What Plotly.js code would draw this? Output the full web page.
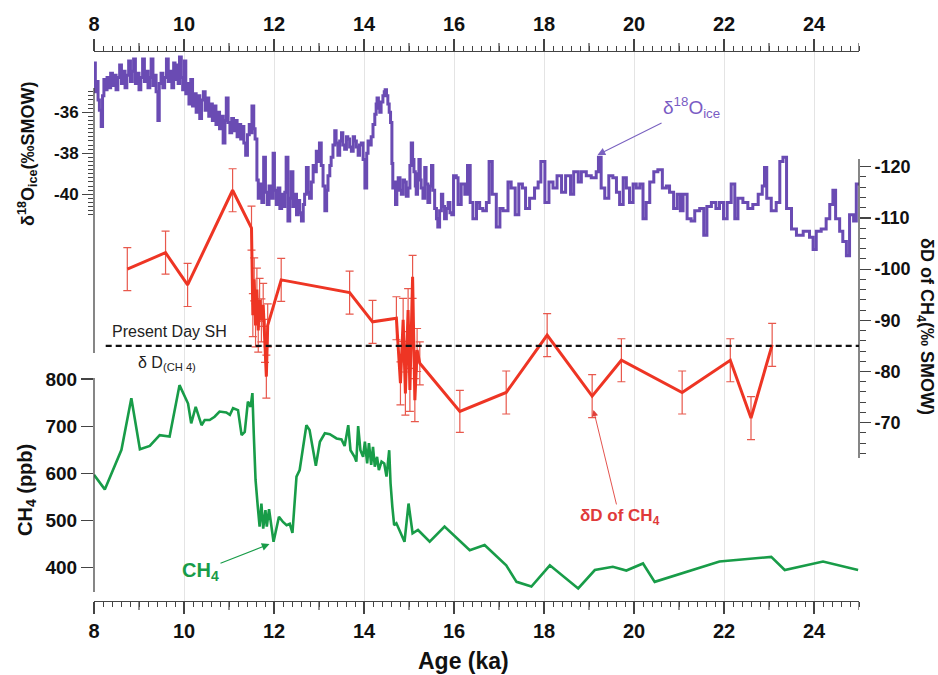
<!DOCTYPE html>
<html><head><meta charset="utf-8">
<script src="https://cdn.plot.ly/plotly-3.0.1.min.js"></script>
<style>html,body{margin:0;padding:0;background:#fff}#chart{width:938px;height:675px}</style>
</head><body><div id="chart"></div>
<script>
// ---------- DATA ----------
const d18Age = [8.00,8.03,8.06,8.09,8.12,8.16,8.19,8.22,8.26,8.29,8.33,8.37,8.41,8.45,8.49,8.53,8.57,8.61,8.65,8.69,8.73,8.77,8.81,8.85,8.88,8.92,8.96,9.00,9.04,9.08,9.12,9.16,9.20,9.24,9.27,9.31,9.35,9.38,9.42,9.45,9.49,9.53,9.57,9.61,9.65,9.69,9.73,9.77,9.80,9.83,9.87,9.90,9.94,9.97,10.01,10.04,10.08,10.11,10.15,10.19,10.23,10.27,10.31,10.35,10.39,10.43,10.47,10.51,10.55,10.59,10.63,10.67,10.71,10.75,10.79,10.83,10.87,10.91,10.94,10.98,11.02,11.06,11.10,11.14,11.18,11.22,11.26,11.30,11.33,11.37,11.41,11.45,11.48,11.51,11.55,11.58,11.62,11.65,11.69,11.73,11.77,11.81,11.85,11.89,11.93,11.98,12.01,12.05,12.09,12.13,12.17,12.21,12.24,12.27,12.31,12.35,12.38,12.42,12.46,12.50,12.54,12.57,12.61,12.65,12.68,12.72,12.76,12.79,12.83,12.87,12.90,12.94,12.98,13.01,13.05,13.09,13.13,13.17,13.20,13.24,13.27,13.31,13.35,13.38,13.42,13.46,13.50,13.53,13.57,13.61,13.64,13.68,13.72,13.76,13.79,13.83,13.87,13.90,13.94,13.98,14.02,14.06,14.09,14.13,14.16,14.20,14.24,14.27,14.29,14.32,14.35,14.38,14.42,14.45,14.47,14.50,14.53,14.56,14.59,14.62,14.64,14.67,14.70,14.73,14.76,14.80,14.83,14.87,14.90,14.94,14.98,15.02,15.05,15.08,15.11,15.14,15.16,15.19,15.22,15.25,15.27,15.31,15.35,15.38,15.42,15.46,15.50,15.53,15.57,15.61,15.64,15.68,15.72,15.75,15.79,15.83,15.87,15.91,15.95,15.99,16.05,16.09,16.16,16.24,16.30,16.36,16.42,16.50,16.57,16.64,16.72,16.78,16.85,16.94,17.02,17.09,17.20,17.27,17.36,17.44,17.52,17.59,17.68,17.79,17.87,17.93,18.02,18.11,18.20,18.29,18.39,18.48,18.59,18.66,18.76,18.83,18.94,19.05,19.16,19.21,19.27,19.35,19.44,19.53,19.61,19.68,19.76,19.83,19.90,19.98,20.05,20.13,20.20,20.27,20.35,20.44,20.53,20.63,20.72,20.79,20.88,20.96,21.03,21.09,21.18,21.27,21.35,21.46,21.55,21.62,21.72,21.82,21.90,21.99,22.07,22.16,22.24,22.31,22.42,22.53,22.64,22.76,22.85,22.90,22.95,23.05,23.16,23.24,23.31,23.39,23.50,23.61,23.76,23.90,23.98,24.05,24.16,24.27,24.35,24.42,24.48,24.57,24.64,24.72,24.79,24.88,24.94,25.00];
const d18Val = [-33.6,-35.0,-34.5,-35.4,-35.9,-36.7,-35.2,-34.4,-34.9,-34.3,-34.8,-34.1,-34.7,-34.2,-34.9,-34.3,-33.7,-34.6,-34.0,-34.8,-34.2,-33.5,-34.5,-34.0,-33.4,-34.6,-34.1,-34.9,-34.3,-33.4,-34.5,-34.0,-34.8,-34.3,-33.4,-34.7,-34.2,-35.0,-36.4,-34.6,-34.1,-34.8,-34.3,-33.4,-34.5,-34.0,-34.8,-33.6,-34.4,-33.7,-34.6,-33.3,-34.3,-34.9,-33.5,-35.1,-34.6,-35.6,-34.4,-35.7,-35.1,-36.0,-35.2,-36.3,-35.4,-35.0,-35.9,-35.3,-36.2,-35.6,-36.4,-35.7,-36.6,-36.0,-36.8,-36.2,-37.5,-36.4,-35.3,-36.5,-37.0,-36.3,-36.9,-36.4,-37.2,-36.6,-37.3,-36.7,-37.5,-38.1,-37.1,-36.6,-37.0,-35.7,-36.8,-37.3,-39.3,-40.2,-39.5,-40.4,-38.2,-39.9,-40.5,-39.6,-40.2,-38.0,-39.8,-40.5,-39.7,-40.7,-40.0,-40.6,-39.9,-38.2,-41.3,-40.2,-38.9,-40.6,-40.0,-41.0,-40.3,-40.9,-41.3,-40.5,-40.0,-38.7,-39.9,-40.2,-39.4,-38.6,-38.9,-37.9,-38.4,-37.5,-38.6,-39.6,-40.8,-39.8,-39.1,-38.6,-38.2,-37.6,-36.9,-37.5,-38.1,-37.4,-37.0,-37.6,-37.8,-37.2,-37.3,-37.7,-37.9,-37.2,-37.4,-37.7,-38.1,-37.6,-37.5,-38.3,-39.7,-38.0,-37.4,-37.6,-37.2,-36.6,-36.1,-35.6,-35.3,-35.8,-36.0,-35.5,-35.2,-35.0,-34.9,-35.2,-35.6,-36.0,-36.5,-38.5,-39.7,-39.4,-40.5,-39.8,-39.2,-39.8,-40.0,-39.3,-39.4,-40.1,-39.7,-38.6,-37.5,-38.3,-38.9,-39.6,-40.0,-39.0,-38.3,-39.3,-39.7,-40.2,-38.7,-39.5,-40.4,-39.6,-38.6,-39.8,-40.7,-41.2,-41.6,-40.8,-40.0,-40.6,-41.2,-40.7,-40.4,-40.9,-41.0,-39.1,-39.2,-40.5,-39.5,-40.0,-38.6,-40.4,-41.2,-40.4,-40.7,-40.8,-40.4,-38.4,-40.0,-41.6,-40.7,-40.8,-39.4,-39.7,-41.0,-39.5,-39.7,-40.7,-40.2,-39.7,-39.4,-38.4,-40.4,-39.4,-39.7,-39.1,-39.9,-39.1,-40.0,-38.9,-39.4,-38.9,-39.1,-39.2,-38.9,-38.2,-39.7,-40.2,-39.1,-39.2,-39.9,-40.5,-39.2,-39.7,-40.4,-39.5,-39.7,-39.5,-41.2,-40.4,-39.4,-38.9,-38.8,-39.7,-39.6,-39.9,-40.7,-40.0,-40.8,-40.0,-41.2,-41.3,-40.8,-40.7,-42.0,-40.6,-40.4,-40.7,-40.4,-41.2,-40.4,-39.5,-41.2,-40.2,-40.4,-40.7,-40.5,-40.0,-39.6,-38.7,-40.2,-40.8,-40.4,-38.4,-38.2,-40.7,-41.7,-42.0,-41.8,-42.1,-42.7,-41.8,-41.7,-41.2,-40.5,-39.8,-41.2,-41.8,-42.3,-43.0,-41.0,-41.3,-39.5,-39.5];

const dDAge = [8.74,9.59,10.08,11.08,11.50,11.53,11.56,11.59,11.62,11.65,11.68,11.72,11.76,11.80,11.83,11.86,12.16,13.68,14.19,14.72,14.81,14.87,14.92,14.98,15.02,15.08,15.13,15.18,15.24,16.13,17.16,18.07,19.07,19.72,21.07,22.14,22.60,23.07];
const dDVal = [-100.0,-103.2,-96.9,-115.4,-108.0,-91.0,-98.0,-89.0,-96.0,-88.0,-94.0,-90.0,-93.0,-86.0,-79.0,-89.0,-97.9,-95.4,-89.7,-90.4,-77.7,-90.1,-75.7,-92.0,-76.4,-98.5,-74.4,-84.2,-81.6,-72.2,-75.9,-87.1,-75.2,-82.2,-75.9,-82.2,-70.9,-85.2];
const dDErr = [4.2,4.2,4.2,4.2,4.3,4.2,4.2,4.2,4.2,4.2,4.2,4.2,4.2,4.2,4.2,4.2,4.2,4.2,4.2,4.2,4.2,4.2,4.2,4.2,4.2,4.2,4.2,4.2,4.2,4.1,4.2,4.2,4.2,4.2,4.2,4.2,4.2,4.2];

const ch4Age = [8.00,8.24,8.61,8.83,9.02,9.24,9.46,9.68,9.90,10.09,10.16,10.26,10.39,10.46,10.57,10.68,10.79,10.94,11.02,11.09,11.20,11.28,11.35,11.42,11.48,11.52,11.55,11.59,11.64,11.68,11.72,11.76,11.81,11.84,11.89,11.94,11.99,12.11,12.20,12.28,12.35,12.41,12.50,12.57,12.72,12.79,12.93,13.02,13.13,13.24,13.39,13.50,13.57,13.65,13.70,13.79,13.83,13.87,13.92,13.98,14.02,14.07,14.11,14.16,14.20,14.24,14.29,14.33,14.39,14.45,14.50,14.56,14.59,14.63,14.67,14.72,14.79,14.90,14.99,15.08,15.20,15.46,15.79,16.35,16.68,17.16,17.39,17.72,18.13,18.76,19.13,19.53,19.83,20.20,20.46,21.90,23.05,23.35,24.20,24.98];
const ch4Val = [597,566,650,759,651,658,681,678,787,748,706,741,702,713,713,720,731,729,724,738,734,681,688,752,741,770,685,586,529,487,536,483,522,487,524,487,455,508,497,490,493,474,593,607,702,692,616,667,685,683,674,672,658,702,649,635,625,700,649,635,667,621,664,618,656,614,635,607,625,621,593,649,579,529,490,494,480,455,536,473,480,455,487,437,448,405,370,360,405,356,395,402,394,409,370,413,423,395,413,395];

const xLabelTicks = [8,10,12,14,16,18,20,22,24];
const xOddTicks = [9,11,13,15,17,19,21,23,25];
const d18Ticks = [-36,-38,-40];
const d18TickText = ['-36','-38','-40'];
const ch4Ticks = [400,500,600,700,800];
const dDTicks = [-120,-110,-100,-90,-80,-70];
const dDTickText = ['-120','-110','-100','-90','-80','-70'];
const presentDaySH = -85;

// ---------- STYLE ----------
const FONT = 'Liberation Sans, Arial, Helvetica, sans-serif';
const AX = '#444';
function rng(a, b, s){ const o=[]; for(let v=a; v<=b+1e-9; v+=s) o.push(Math.round(v*100)/100); return o; }
const d18Minor = rng(-41, -35, 0.2);
const dDMinor = rng(-120, -64, 2);

const purple = '#6a4bb3', red = '#ee3524', green = '#189c48';

const traces = [
  {x: d18Age, y: d18Val, type:'scatter', mode:'lines', line:{shape:'hv', color:purple, width:3}, xaxis:'x', yaxis:'y', hoverinfo:'skip', showlegend:false},
  {x: ch4Age, y: ch4Val, type:'scatter', mode:'lines', line:{color:green, width:2.6}, xaxis:'x', yaxis:'y2', hoverinfo:'skip', showlegend:false},
  {x: dDAge, y: dDVal, type:'scatter', mode:'lines', line:{color:red, width:3}, xaxis:'x', yaxis:'y3',
    error_y:{type:'data', array:dDErr, visible:true, color:'#e8584c', thickness:1.2, width:4}, hoverinfo:'skip', showlegend:false},
  {x:[8,25], y:[null,null], type:'scatter', mode:'lines', xaxis:'x2', yaxis:'y', hoverinfo:'skip', showlegend:false}
];

const tickFontX = {family:FONT, size:20, color:'#111', weight:700};
const baseX = {range:[8,25], tickmode:'array', tickvals:xLabelTicks, ticks:'outside', ticklen:12, tickwidth:1.2, tickcolor:AX,
  showline:true, linecolor:AX, linewidth:1.3, zeroline:false, tickfont:tickFontX,
  minor:{tickmode:'linear', tick0:8, dtick:0.2, ticks:'outside', ticklen:5, tickcolor:AX, tickwidth:1, showgrid:false}};

// medium ticks at odd ages (bottom and top), placed on the x scale
const oddTickShapes = [];
xOddTicks.forEach(v => {
  oddTickShapes.push({type:'line', xref:'x', yref:'paper', x0:v, x1:v, y0:0, y1:-9/549, line:{color:AX, width:1.2}});
  oddTickShapes.push({type:'line', xref:'x', yref:'paper', x0:v, x1:v, y0:1, y1:1+9/549, line:{color:AX, width:1.2}});
});

const layout = {
  width:938, height:675,
  margin:{l:94, r:79, t:52, b:74},
  paper_bgcolor:'#fff', plot_bgcolor:'rgba(0,0,0,0)',
  showlegend:false,
  xaxis: Object.assign({}, baseX, {side:'bottom', anchor:'y', showgrid:true, gridcolor:'#e4e4e4', gridwidth:1}),
  xaxis2: Object.assign({}, baseX, {side:'top', overlaying:'x', anchor:'y', showgrid:false}),
  yaxis: {range:[-59.84,-33.06], side:'left', anchor:'x', tickmode:'array', tickvals:d18Ticks, ticktext:d18TickText, ticks:'outside', ticklen:11, tickwidth:1.2, tickcolor:AX,
    showline:false, showgrid:false, zeroline:false, tickfont:{family:FONT, size:17, color:'#111', weight:700},
    minor:{tickmode:'array', tickvals:d18Minor, ticks:'outside', ticklen:5, tickcolor:AX, tickwidth:1, showgrid:false}},
  yaxis2: {range:[329.4,1493.2], overlaying:'y', side:'left', anchor:'x', tickmode:'array', tickvals:ch4Ticks, ticks:'outside', ticklen:12, tickwidth:1.3, tickcolor:AX,
    showline:false, showgrid:false, zeroline:false, tickfont:{family:FONT, size:19, color:'#111', weight:700}},
  yaxis3: {range:[-35.18,-142.40], overlaying:'y', side:'right', anchor:'x', tickmode:'array', tickvals:dDTicks, ticktext:dDTickText, ticks:'outside', ticklen:11, tickwidth:1.2, tickcolor:AX,
    showline:false, showgrid:false, zeroline:false, tickfont:{family:FONT, size:18, color:'#111', weight:700},
    minor:{tickmode:'array', tickvals:dDMinor, ticks:'outside', ticklen:6, tickcolor:AX, tickwidth:1, showgrid:false}},
  shapes: [
    {type:'line', xref:'paper', yref:'paper', x0:0, x1:0, y0:0.9344, y1:0.4517, line:{color:AX, width:1.3}},
    {type:'line', xref:'paper', yref:'paper', x0:0, x1:0, y0:0.4062, y1:0.0164, line:{color:AX, width:1.3}},
    {type:'line', xref:'paper', yref:'paper', x0:1, x1:1, y0:0.8051, y1:0.2605, line:{color:AX, width:1.3}},
    {type:'line', xref:'x', yref:'y3', x0:8.26, x1:25, y0:presentDaySH, y1:presentDaySH, line:{color:'#111', width:2.4, dash:'6px,4px'}}
  ].concat(oddTickShapes),
  annotations: [
    {xref:'paper', yref:'paper', x:(463-94)/765, y:(601-661)/549, xanchor:'center', yanchor:'middle', text:'Age (ka)', showarrow:false, font:{family:FONT, size:23, color:'#111', weight:700}},
    {xref:'paper', yref:'paper', x:(27-94)/765, y:(601-154)/549, xanchor:'center', yanchor:'middle', text:'δ<sup>18</sup>O<sub>ice</sub>(‰SMOW)', textangle:-90, showarrow:false, font:{family:FONT, size:18, color:'#111', weight:700}},
    {xref:'paper', yref:'paper', x:(26-94)/765, y:(601-490)/549, xanchor:'center', yanchor:'middle', text:'CH<sub>4</sub> (ppb)', textangle:-90, showarrow:false, font:{family:FONT, size:20, color:'#111', weight:700}},
    {xref:'paper', yref:'paper', x:(926-94)/765, y:(601-327)/549, xanchor:'center', yanchor:'middle', text:'δD of CH<sub>4</sub>(‰ SMOW)', textangle:90, showarrow:false, font:{family:FONT, size:18, color:'#111', weight:700}},
    {xref:'x', yref:'y3', x:9.67, y:-87.9, xanchor:'center', yanchor:'middle', text:'Present Day SH', showarrow:false, font:{family:FONT, size:16, color:'#222'}},
    {xref:'x', yref:'y3', x:9.62, y:-81.5, xanchor:'center', yanchor:'middle', text:'δ D<sub>(CH 4)</sub>', showarrow:false, font:{family:FONT, size:16, color:'#222'}},
    {xref:'x', yref:'y', x:19.19, y:-38.08, ax:94, ay:-47, text:'δ<sup>18</sup>O<sub>ice</sub>', showarrow:true, arrowhead:2, arrowsize:1.4, arrowwidth:1.1, arrowcolor:'#7a62c0', font:{family:FONT, size:19, color:'#7a5cc4'}},
    {xref:'x', yref:'y3', x:19.10, y:-72.5, ax:26, ay:107, text:'δD of CH<sub>4</sub>', showarrow:true, arrowhead:2, arrowsize:1.4, arrowwidth:0.9, arrowcolor:'#e0403a', font:{family:FONT, size:17, color:'#e03a3a', weight:700}},
    {xref:'x', yref:'y2', x:11.90, y:450, ax:-69, ay:27, text:'CH<sub>4</sub>', showarrow:true, arrowhead:2, arrowsize:1.4, arrowwidth:1.1, arrowcolor:green, font:{family:FONT, size:20, color:green, weight:700}}
  ]
};

Plotly.newPlot('chart', traces, layout, {displayModeBar:false, staticPlot:true});
</script>
</body></html>
